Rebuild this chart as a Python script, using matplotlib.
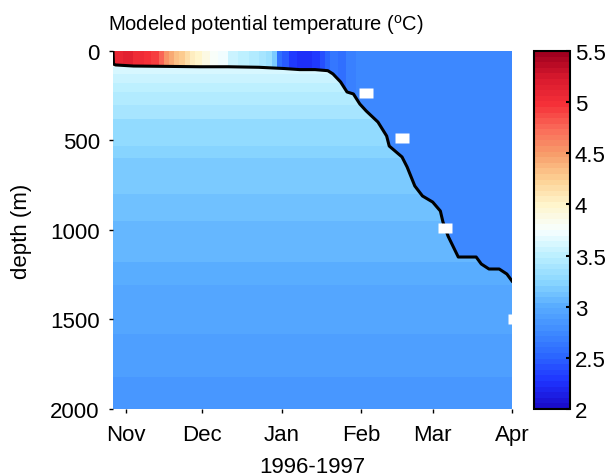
import numpy as np
import matplotlib
matplotlib.use('Agg')
import matplotlib.pyplot as plt
from matplotlib.colors import LinearSegmentedColormap, Normalize
from matplotlib.path import Path
from matplotlib.patches import PathPatch

plt.rcParams['font.family'] = ['Liberation Sans', 'DejaVu Sans']
plt.rcParams['mathtext.fontset'] = 'custom'
plt.rcParams['mathtext.rm'] = 'Liberation Sans'

# time axis: days since 1 Nov 1996
month_days = [0, 30, 61, 92, 120, 151]
month_labels = ['Nov', 'Dec', 'Jan', 'Feb', 'Mar', 'Apr']
t_start, t_end = -5, 151

# deep (below mixed layer) profile: band top depths and temperatures
band_depths = [0, 90, 130, 180, 230, 300, 380, 450, 530, 600, 700, 800, 950, 1180, 1310, 1580, 1820, 2000]
band_temps = [3.72, 3.64, 3.56, 3.5, 3.44, 3.37, 3.31, 3.27, 3.22, 3.18, 3.15, 3.1, 3.05, 3.0, 2.93, 2.88, 2.84]

# mixed layer temperature per time bin (bin start days, last entry is the end)
surf_days = [-5, -1, 3, 7, 10, 13, 15, 17, 19, 21, 23, 25, 27, 30, 33, 36, 40, 44, 48, 52, 55, 57,
             59, 61, 64, 67, 70, 73, 76, 78, 80, 83, 86, 88, 90, 151]
surf_temps = [5.1, 5.12, 5.05, 5.0, 4.92, 4.75, 4.55, 4.45, 4.35, 4.25, 4.15, 4.05, 3.98, 3.88, 3.8,
              3.7, 3.58, 3.5, 3.45, 3.38, 3.32, 3.2, 2.6, 2.45, 2.3, 2.27, 2.25, 2.32, 2.42, 2.5,
              2.62, 2.55, 2.68, 2.66, 2.72]

# mixed layer depth
mld_days = [-5, -4.8, -4, 3, 16, 29, 40, 52, 62, 68, 74, 79, 81, 84, 86.5, 89, 91.5, 94, 98.6, 102,
            103, 108, 110, 113, 116, 120, 123, 124, 126, 130, 137, 139, 142, 146, 149, 151]
mld_depth = [0, 73, 78, 84, 86, 88, 88, 91, 98, 104, 104, 110, 128, 173, 229, 240, 296, 335, 397, 475,
             531, 592, 648, 754, 810, 844, 894, 955, 1034, 1151, 1151, 1190, 1218, 1218, 1246, 1285]

# white markers
obs_days = [94, 108, 125, 152]
obs_depth = [235, 486, 989, 1497]

# colormap
cm_vals = [2.0, 2.25, 2.5, 2.75, 3.0, 3.25, 3.5, 3.75, 4.0, 4.25, 4.5, 4.75, 5.0, 5.25, 5.5]
cm_cols = [(0.10, 0.05, 0.80), (0.12, 0.20, 1.0), (0.17, 0.40, 1.0), (0.25, 0.55, 1.0),
           (0.35, 0.68, 1.0), (0.55, 0.85, 1.0), (0.74, 0.94, 1.0), (0.97, 1.0, 1.0),
           (1.0, 0.96, 0.80), (0.99, 0.82, 0.58), (0.97, 0.62, 0.42), (0.98, 0.42, 0.35),
           (0.96, 0.19, 0.22), (0.85, 0.10, 0.18), (0.63, 0.0, 0.12)]
pos = [(v - 2.0) / 3.5 for v in cm_vals]
cmap = LinearSegmentedColormap.from_list('temp', list(zip(pos, cm_cols)), N=64)
norm = Normalize(2.0, 5.5)

fig = plt.figure(figsize=(6.15, 4.77), dpi=100)
ax = fig.add_axes([0.1837, 0.1405, 0.6488, 0.7505])
cax = fig.add_axes([0.8683, 0.1405, 0.0585, 0.7505])

# deep stratification
deep = np.array(band_temps)[:, None]
ax.pcolormesh([t_start, t_end], band_depths, deep, cmap=cmap, norm=norm, shading='flat')

# mixed layer, clipped to the area above the mld line
surf = np.array(surf_temps)[None, :]
qm = ax.pcolormesh(surf_days, [0, 2000], surf, cmap=cmap, norm=norm, shading='flat')
verts = [(t_start, 0)] + list(zip(mld_days, mld_depth)) + [(t_end, 0), (t_start, 0)]
clip = PathPatch(Path(verts), transform=ax.transData, facecolor='none', edgecolor='none')
ax.add_patch(clip)
qm.set_clip_path(clip)

ax.plot(mld_days, mld_depth, color='k', lw=2.2)
ax.plot(obs_days, obs_depth, ls='none', color='white',
        marker=[(-1.5, -1), (1.5, -1), (1.5, 1), (-1.5, 1)], markersize=10, mec='none')

ax.set_xlim(t_start, t_end)
ax.set_ylim(2000, 0)
ax.set_xticks(month_days)
ax.set_xticklabels(month_labels)
ax.set_yticks([0, 500, 1000, 1500, 2000])
ax.tick_params(labelsize=16, direction='out', length=3, width=1)
ax.tick_params(axis='x', pad=8)
ax.tick_params(axis='y', pad=6.5)
for s in ax.spines.values():
    s.set_visible(False)
ax.set_ylabel('depth (m)', fontsize=16, labelpad=13)
ax.set_xlabel('1996-1997', fontsize=16, labelpad=8)
fig.text(0.433, 0.948, r'Modeled potential temperature ($^\mathrm{o}$C)', fontsize=14.5,
         ha='center', va='center')

cb = fig.colorbar(plt.cm.ScalarMappable(norm=norm, cmap=cmap), cax=cax)
cb.set_ticks([2, 2.5, 3, 3.5, 4, 4.5, 5, 5.5])
cb.set_ticklabels(['2', '2.5', '3', '3.5', '4', '4.5', '5', '5.5'])
cax.tick_params(labelsize=16, direction='in', length=3, width=1.5)
cb.outline.set_linewidth(1.5)

fig.savefig('out.png', dpi=100)
